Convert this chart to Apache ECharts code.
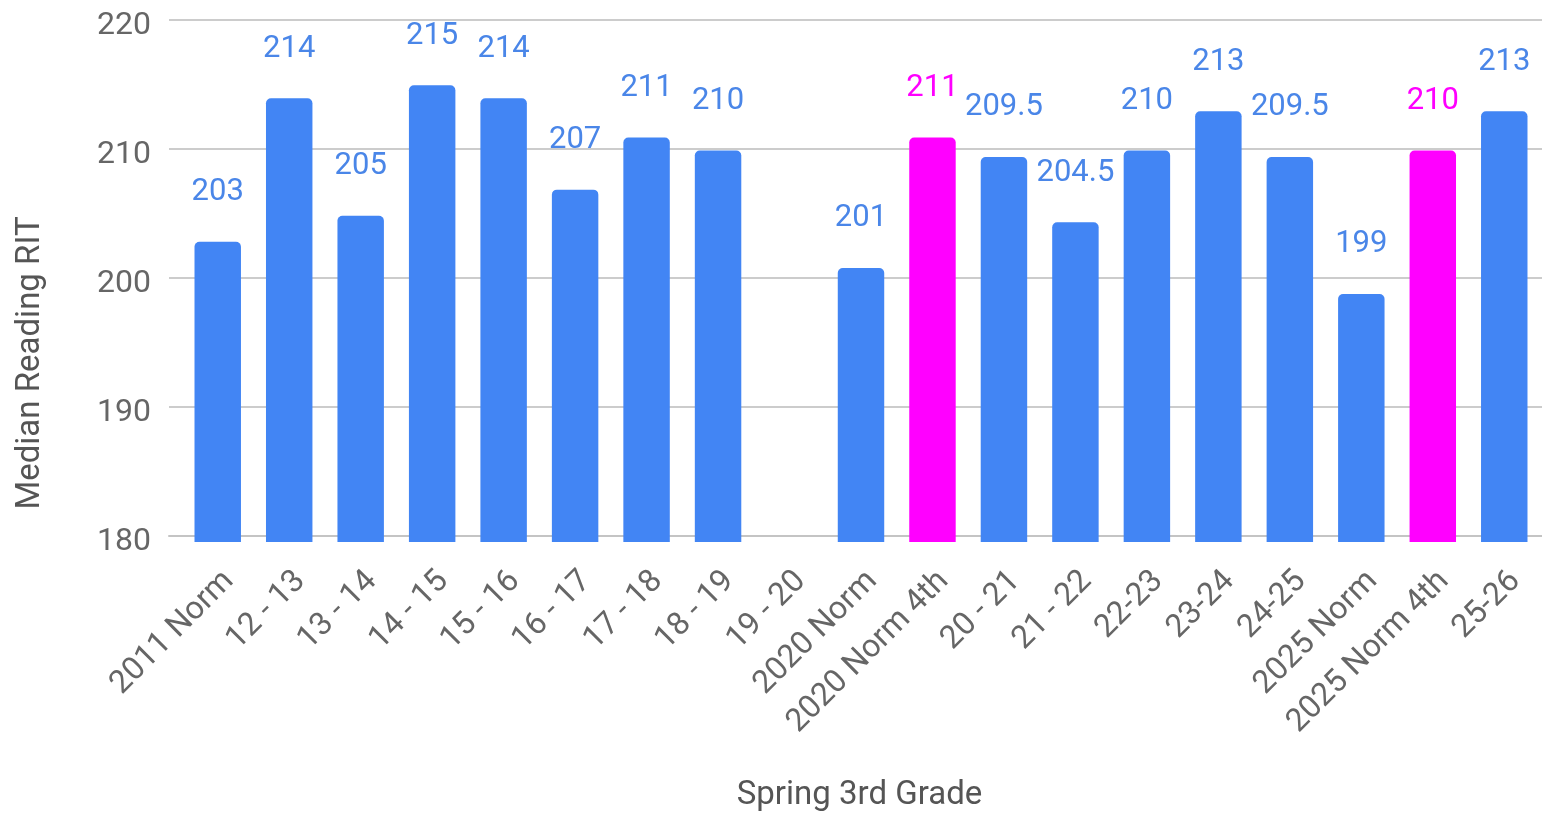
<!DOCTYPE html>
<html>
<head>
<meta charset="utf-8">
<script src="https://cdn.jsdelivr.net/npm/echarts@6/dist/echarts.min.js"></script>
<style>
html,body{margin:0;padding:0;background:#fff;}
#chart{width:1542px;height:817px;}
</style>
</head>
<body>
<div id="chart"></div>
<script>
const categories = ['2011 Norm','12 - 13','13 - 14','14 - 15','15 - 16','16 - 17','17 - 18','18 - 19','19 - 20','2020 Norm','2020 Norm 4th','20 - 21','21 - 22','22-23','23-24','24-25','2025 Norm','2025 Norm 4th','25-26'];
const values = [203,214,205,215,214,207,211,210,null,201,211,209.5,204.5,210,213,209.5,199,210,213];
const highlighted = ['2020 Norm 4th','2025 Norm 4th'];
const yTicks = [180,190,200,210,220];

const BLUE = '#4285F4', MAGENTA = '#FF00FF';
const LBLUE = '#4a86e8';
const FONT = 'Roboto, "Noto Sans", sans-serif';

const chart = echarts.init(document.getElementById('chart'));
const yMin = yTicks[0], yMax = yTicks[yTicks.length-1], yStep = yTicks[1]-yTicks[0];

chart.setOption({
  animation: false,
  grid: [
    {left:169, right:0, top:20, bottom:275},
    {left:182, right:2, top:20, bottom:275}
  ],
  xAxis: [
    {gridIndex:0, type:'value', min:0, max:1, axisLabel:{show:false}, axisTick:{show:false}, splitLine:{show:false},
     axisLine:{show:true, onZero:false, lineStyle:{color:'#c4c4c4', width:2}},
     name:'Spring 3rd Grade', nameLocation:'middle', nameGap:243,
     nameTextStyle:{fontFamily:FONT, fontSize:33, color:'#555', padding:[0,0,0,8]}},
    {gridIndex:1, type:'category', data:categories, axisLine:{show:false}, axisTick:{show:false},
     axisLabel:{rotate:45, interval:0, fontFamily:FONT, fontSize:32, color:'#666', margin:23, verticalAlign:'top'}}
  ],
  yAxis: [
    {gridIndex:0, type:'value', min:yMin, max:yMax, interval:yStep,
     axisLine:{show:false}, axisTick:{show:false},
     axisLabel:{margin:18, formatter: v => '{t|' + v + '}',
       rich:{t:{fontFamily:FONT, fontSize:32, color:'#666', padding:[12,0,0,0]}}},
     splitLine:{lineStyle:{color:'#cccccc', width:2}},
     name:'Median Reading RIT', nameLocation:'middle', nameGap:122,
     nameTextStyle:{fontFamily:FONT, fontSize:33, color:'#555', padding:[0,170,0,0]}},
    {gridIndex:1, type:'value', min:yMin, max:yMax, interval:yStep, show:false}
  ],
  series: [{
    type:'bar', xAxisIndex:1, yAxisIndex:1,
    data: values.map((v,i)=>({value:v, itemStyle:{color: highlighted.includes(categories[i]) ? MAGENTA : BLUE},
      label:{color: highlighted.includes(categories[i]) ? MAGENTA : LBLUE}})),
    barCategoryGap:'35%',
    itemStyle:{borderRadius:[5,5,0,0]},
    label:{show:true, position:'top', distance:34, fontFamily:FONT, fontSize:31,
      formatter: p => p.value == null ? '' : String(p.value)}
  }]
});
</script>
</body>
</html>
